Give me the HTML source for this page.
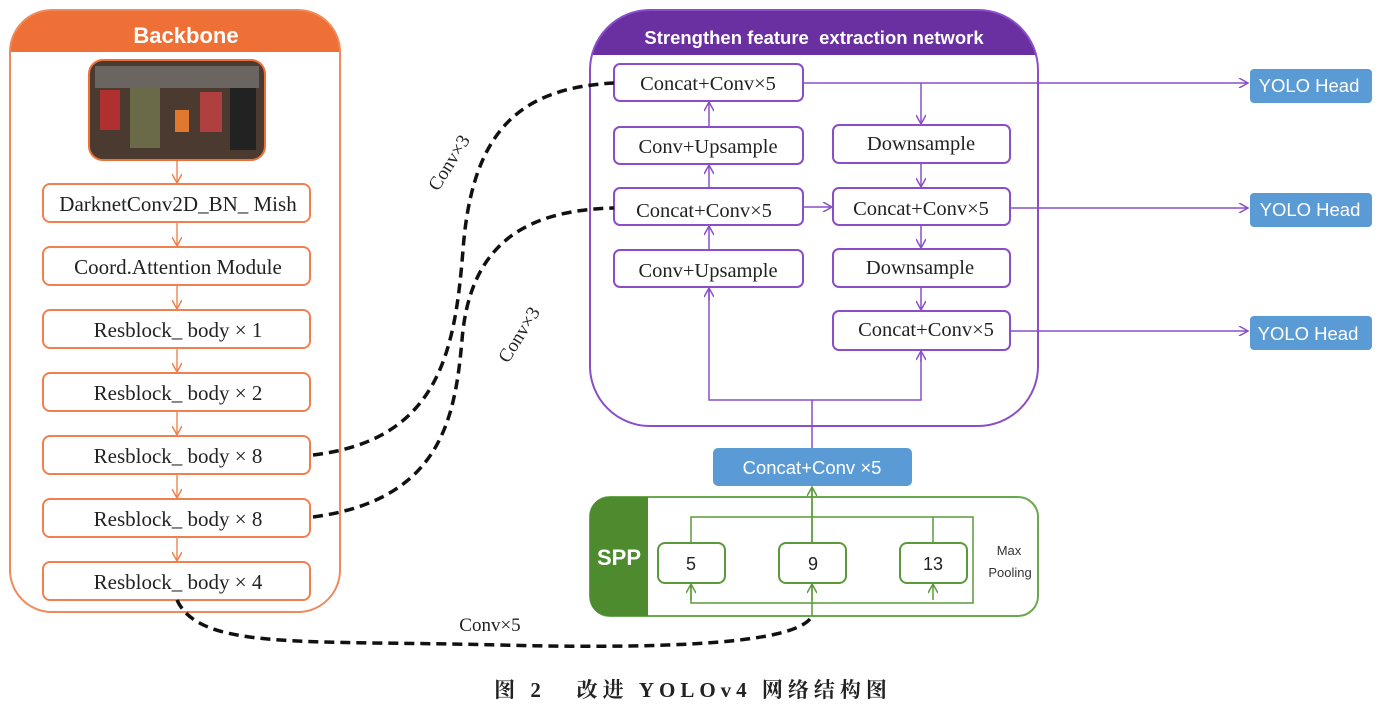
<!DOCTYPE html>
<html><head><meta charset="utf-8"><style>
html,body{margin:0;padding:0;background:#fff;width:1386px;height:705px;overflow:hidden}
svg text{font-family:"Liberation Serif","Noto Serif CJK SC",serif}
svg text.s, svg .s text{font-family:"Liberation Sans","DejaVu Sans",sans-serif}
</style></head><body>
<svg width="1386" height="705" viewBox="0 0 1386 705" xmlns="http://www.w3.org/2000/svg">
<defs>
<marker id="ao" markerWidth="12" markerHeight="10" refX="10" refY="5" orient="auto" markerUnits="userSpaceOnUse"><path d="M1,0 L10,5 L1,10" fill="none" stroke="#f0804a" stroke-width="1.5"/></marker>
<marker id="ap" markerWidth="12" markerHeight="10" refX="10" refY="5" orient="auto" markerUnits="userSpaceOnUse"><path d="M1,0 L10,5 L1,10" fill="none" stroke="#8a4fc8" stroke-width="1.5"/></marker>
<marker id="ag" markerWidth="12" markerHeight="10" refX="10" refY="5" orient="auto" markerUnits="userSpaceOnUse"><path d="M1,0 L10,5 L1,10" fill="none" stroke="#5a9a3a" stroke-width="1.5"/></marker>
<clipPath id="bbc"><rect x="10" y="10" width="330" height="602" rx="42"/></clipPath>
<clipPath id="pc"><rect x="590" y="10" width="448" height="416" rx="60"/></clipPath>
</defs>
<rect x="10" y="10" width="330" height="42" fill="#ee7036" clip-path="url(#bbc)"/>
<rect x="10" y="10" width="330" height="602" rx="42" fill="none" stroke="#f08a5a" stroke-width="2"/>
<text x="186" y="43" class="s" font-size="22" font-weight="bold" fill="#fff" text-anchor="middle">Backbone</text>
<rect x="89" y="60" width="176" height="100" rx="14" fill="#4a3a30" stroke="#ee7036" stroke-width="2"/>
<rect x="95" y="66" width="164" height="22" fill="#6a6560"/>
<rect x="100" y="90" width="20" height="40" fill="#b03030"/>
<rect x="130" y="88" width="30" height="60" fill="#6a6a48"/>
<rect x="175" y="110" width="14" height="22" fill="#e07830"/>
<rect x="200" y="92" width="22" height="40" fill="#b04040"/>
<rect x="230" y="88" width="26" height="62" fill="#222"/>
<g fill="#fff" stroke="#f08050" stroke-width="2">
<rect x="43" y="184" width="267" height="38" rx="7"/>
<rect x="43" y="247" width="267" height="38" rx="7"/>
<rect x="43" y="310" width="267" height="38" rx="7"/>
<rect x="43" y="373" width="267" height="38" rx="7"/>
<rect x="43" y="436" width="267" height="38" rx="7"/>
<rect x="43" y="499" width="267" height="38" rx="7"/>
<rect x="43" y="562" width="267" height="38" rx="7"/>
</g>
<g font-size="21" text-anchor="middle" fill="#222">
<text x="178" y="211">DarknetConv2D_BN_ Mish</text>
<text x="178" y="274">Coord.Attention Module</text>
<text x="178" y="337">Resblock_ body × 1</text>
<text x="178" y="400">Resblock_ body × 2</text>
<text x="178" y="463">Resblock_ body × 8</text>
<text x="178" y="526">Resblock_ body × 8</text>
<text x="178" y="589">Resblock_ body × 4</text>
</g>
<g stroke="#f08a5a" stroke-width="1.5" marker-end="url(#ao)">
<line x1="177" y1="161" x2="177" y2="183"/>
<line x1="177" y1="222" x2="177" y2="246"/>
<line x1="177" y1="285" x2="177" y2="309"/>
<line x1="177" y1="348" x2="177" y2="372"/>
<line x1="177" y1="411" x2="177" y2="435"/>
<line x1="177" y1="474" x2="177" y2="498"/>
<line x1="177" y1="537" x2="177" y2="561"/>
</g>
<rect x="590" y="10" width="448" height="45" fill="#6a2fa0" clip-path="url(#pc)"/>
<rect x="590" y="10" width="448" height="416" rx="60" fill="none" stroke="#8a4fc8" stroke-width="2"/>
<text x="814" y="44" class="s" font-size="18.5" font-weight="bold" fill="#fff" text-anchor="middle" xml:space="preserve">Strengthen feature  extraction network</text>
<g fill="#fff" stroke="#8a4fc8" stroke-width="2">
<rect x="614" y="64" width="189" height="37" rx="6"/>
<rect x="614" y="127" width="189" height="37" rx="6"/>
<rect x="614" y="188" width="189" height="37" rx="6"/>
<rect x="614" y="250" width="189" height="37" rx="6"/>
<rect x="833" y="125" width="177" height="38" rx="6"/>
<rect x="833" y="188" width="177" height="37" rx="6"/>
<rect x="833" y="249" width="177" height="38" rx="6"/>
<rect x="833" y="311" width="177" height="39" rx="6"/>
</g>
<g font-size="20.5" text-anchor="middle" fill="#222">
<text x="708" y="90">Concat+Conv×5</text>
<text x="708" y="153">Conv+Upsample</text>
<text x="704" y="217">Concat+Conv×5</text>
<text x="708" y="277">Conv+Upsample</text>
<text x="921" y="150">Downsample</text>
<text x="921" y="215">Concat+Conv×5</text>
<text x="920" y="274">Downsample</text>
<text x="926" y="336">Concat+Conv×5</text>
</g>
<g stroke="#8a4fc8" stroke-width="1.5" fill="none">
<line x1="709" y1="126" x2="709" y2="102" marker-end="url(#ap)"/>
<line x1="709" y1="187" x2="709" y2="165" marker-end="url(#ap)"/>
<line x1="709" y1="249" x2="709" y2="226" marker-end="url(#ap)"/>
<polyline points="812,448 812,400 709,400 709,288"/>
<line x1="709" y1="300" x2="709" y2="288" marker-end="url(#ap)"/>
<polyline points="812,400 921,400 921,351"/>
<line x1="921" y1="362" x2="921" y2="351" marker-end="url(#ap)"/>
<polyline points="803,83 1248,83" marker-end="url(#ap)"/>
<line x1="921" y1="83" x2="921" y2="124" marker-end="url(#ap)"/>
<line x1="921" y1="163" x2="921" y2="187" marker-end="url(#ap)"/>
<line x1="921" y1="225" x2="921" y2="248" marker-end="url(#ap)"/>
<line x1="921" y1="287" x2="921" y2="310" marker-end="url(#ap)"/>
<line x1="803" y1="207" x2="832" y2="207" marker-end="url(#ap)"/>
<line x1="1010" y1="208" x2="1248" y2="208" marker-end="url(#ap)"/>
<line x1="1010" y1="331" x2="1248" y2="331" marker-end="url(#ap)"/>
</g>
<g fill="#5b9bd5">
<rect x="1250" y="69" width="122" height="34" rx="4"/>
<rect x="1250" y="193" width="122" height="34" rx="4"/>
<rect x="1250" y="316" width="122" height="34" rx="4"/>
<rect x="713" y="448" width="199" height="38" rx="5"/>
</g>
<g class="s" font-size="18.5" fill="#fff" text-anchor="middle">
<text x="1309" y="92">YOLO Head</text>
<text x="1310" y="216">YOLO Head</text>
<text x="1308" y="340">YOLO Head</text>
<text x="812" y="474">Concat+Conv ×5</text>
</g>
<rect x="590" y="497" width="448" height="119" rx="20" fill="none" stroke="#6aa84f" stroke-width="2"/>
<path d="M608,497 H648 V616 H608 A18,18 0 0 1 590,598 V515 A18,18 0 0 1 608,497Z" fill="#4e8a2e"/>
<text x="619" y="565" class="s" font-size="22" font-weight="bold" fill="#fff" text-anchor="middle">SPP</text>
<g stroke="#5a9a3a" stroke-width="1.5" fill="none">
<polyline points="691,543 691,517 973,517 973,603 691,603 691,584"/>
<line x1="933" y1="517" x2="933" y2="543"/>
<line x1="812" y1="616" x2="812" y2="487" marker-end="url(#ag)"/>
<line x1="691" y1="600" x2="691" y2="584" marker-end="url(#ag)"/>
<line x1="812" y1="600" x2="812" y2="584" marker-end="url(#ag)"/>
<line x1="933" y1="600" x2="933" y2="584" marker-end="url(#ag)"/>
</g>
<g fill="#fff" stroke="#5a9a3a" stroke-width="2">
<rect x="658" y="543" width="67" height="40" rx="7"/>
<rect x="779" y="543" width="67" height="40" rx="7"/>
<rect x="900" y="543" width="67" height="40" rx="7"/>
</g>
<line x1="812" y1="543" x2="812" y2="487" stroke="#5a9a3a" stroke-width="1.5"/>
<g class="s" font-size="18" fill="#222" text-anchor="middle">
<text x="691" y="570">5</text><text x="813" y="570">9</text><text x="933" y="570">13</text>
</g>
<text x="1009" y="555" class="s" font-size="13" fill="#333" text-anchor="middle">Max</text>
<text x="1010" y="577" class="s" font-size="13" fill="#333" text-anchor="middle">Pooling</text>
<g stroke="#111" stroke-width="3.5" stroke-dasharray="10,6" fill="none">
<path d="M313,455 C440,440 455,350 463,250 C472,130 520,88 614,83"/>
<path d="M313,517 C440,500 455,420 462,340 C470,240 530,210 614,208"/>
<path d="M177,600 C200,650 300,640 500,645 C700,650 800,640 812,616"/>
</g>
<g font-size="19" fill="#222">
<text transform="translate(438,192) rotate(-58)">Conv×3</text>
<text transform="translate(508,364) rotate(-58)">Conv×3</text>
<text x="490" y="631" text-anchor="middle">Conv×5</text>
</g>
<text x="693" y="697" font-size="21" font-weight="bold" fill="#222" text-anchor="middle" letter-spacing="5" xml:space="preserve">图 2   改进 YOLOv4 网络结构图</text>
</svg>
</body></html>
